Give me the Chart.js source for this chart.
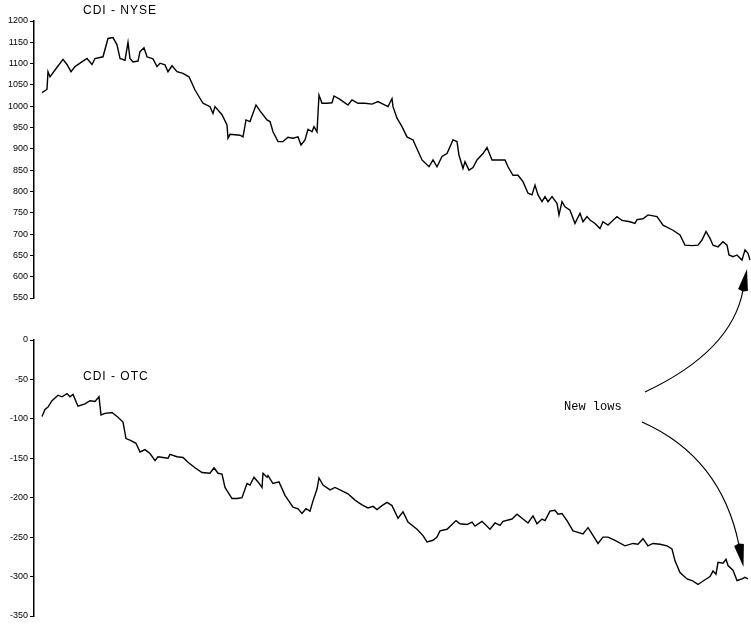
<!DOCTYPE html>
<html><head><meta charset="utf-8">
<script src="https://cdn.jsdelivr.net/npm/chart.js@4"></script>
<style>
html,body{margin:0;padding:0;background:#fff;width:751px;height:625px;overflow:hidden}
canvas{position:absolute;left:0;top:0}
</style></head>
<body>
<canvas id="top" width="751" height="625"></canvas>
<canvas id="bot" width="751" height="625"></canvas>
<script>
// ---- Data (trading-day index, index value) ----
const nyseDay = [1,5,6,7,9,14,22,26,30,34,39,46,51,54,62,67,72,76,79,84,87,89,92,97,99,103,106,112,116,119,124,127,131,136,142,148,154,162,169,172,174,181,186,187,189,199,202,205,209,215,219,226,229,232,237,242,247,252,257,260,264,267,271,273,276,278,281,286,291,293,299,307,311,317,324,331,337,342,347,351,352,356,361,366,372,381,388,392,396,401,406,412,416,418,422,424,428,432,436,442,446,451,459,464,467,472,477,482,487,491,494,497,501,504,507,511,516,518,521,524,529,534,539,542,546,549,554,559,562,567,576,581,589,594,596,602,607,616,622,632,639,644,651,657,661,665,669,672,677,682,686,688,692,696,701,704,707,709];
const nyseValue = [1032,1038,1040,1081,1069,1085,1110,1098,1081,1093,1101,1112,1098,1112,1116,1159,1161,1144,1112,1108,1150,1112,1104,1106,1128,1137,1116,1111,1093,1101,1097,1081,1095,1081,1077,1069,1038,1007,999,983,999,980,956,925,934,932,928,968,964,1003,989,968,964,940,917,917,927,925,928,909,921,946,940,952,940,1026,1007,1007,1008,1024,1016,1003,1015,1007,1007,1005,1011,1005,999,1018,999,972,952,928,921,874,858,874,858,882,889,921,917,885,854,870,850,856,874,889,903,874,874,874,858,838,838,823,796,792,815,792,776,788,776,788,772,745,776,764,756,725,749,729,741,733,725,713,729,721,741,732,729,725,734,736,745,741,721,709,698,674,673,674,686,706,690,674,670,682,674,651,647,651,639,663,655,639];

const otcDay = [1,4,7,11,17,21,26,29,32,37,44,49,54,58,60,64,71,77,82,85,89,95,99,104,109,114,117,122,127,129,136,142,147,154,161,169,173,177,181,184,191,196,201,206,209,213,217,221,222,226,227,232,238,244,252,257,261,265,269,272,276,278,282,289,294,299,307,314,321,327,332,336,341,346,351,357,362,367,376,382,386,392,396,399,406,411,415,419,426,431,434,441,449,454,459,462,471,476,482,487,492,496,501,504,509,514,517,521,526,532,537,542,547,551,557,562,567,574,584,592,597,602,607,612,619,626,631,634,639,646,651,657,664,669,672,675,677,682,685,687,692,696,701,704,707];
const otcValue = [-97,-88,-85,-77,-70,-72,-68,-72,-69,-84,-81,-77,-78,-72,-95,-93,-92,-98,-104,-125,-127,-131,-142,-139,-144,-153,-148,-149,-150,-145,-148,-149,-155,-162,-168,-169,-162,-169,-170,-187,-201,-201,-200,-182,-184,-174,-180,-187,-169,-174,-172,-182,-180,-197,-212,-214,-220,-214,-217,-204,-189,-175,-184,-190,-187,-190,-195,-203,-209,-213,-211,-215,-210,-206,-210,-226,-218,-231,-240,-248,-256,-254,-250,-242,-240,-234,-229,-233,-234,-231,-236,-230,-240,-232,-235,-230,-227,-221,-227,-232,-223,-233,-227,-229,-217,-216,-221,-220,-229,-242,-244,-246,-238,-246,-258,-250,-250,-254,-261,-258,-259,-252,-261,-258,-259,-261,-265,-280,-295,-303,-305,-310,-304,-300,-293,-297,-282,-283,-278,-286,-292,-305,-303,-301,-303];

const nyseTicks = [1200,1150,1100,1050,1000,950,900,850,800,750,700,650,600,550];
const otcTicks = [0,-50,-100,-150,-200,-250,-300,-350];
const nyseTitle = 'CDI - NYSE';
const otcTitle = 'CDI - OTC';
const noteText = 'New lows';

const DAY_MIN = -7, DAY_MAX = 710;

function pts(xs, ys){ return xs.map((x,i)=>({x:x, y:ys[i]})); }

function yAxis(ticks){
  return {
    min: Math.min(...ticks), max: Math.max(...ticks),
    afterBuildTicks: s => { s.ticks = ticks.map(v=>({value:v})); },
    afterFit: s => { s.width = 34; },
    ticks: { color:'#000', font:{family:'Liberation Sans', size:9}, padding:2,
             callback: v => String(v) },
    grid: { drawOnChartArea:false, drawTicks:true, tickLength:4, color:'#000', lineWidth:1 },
    border: { display:true, color:'#000', width:1.5 }
  };
}

function textPlugin(id, items, extra){
  return { id, afterDraw(chart){
    const ctx = chart.ctx; ctx.save();
    ctx.fillStyle = '#000'; ctx.textBaseline = 'alphabetic';
    items.forEach(it=>{
      ctx.font = it.font;
      ctx.letterSpacing = it.ls || '0px';
      ctx.fillText(it.text, it.x, it.y);
    });
    ctx.letterSpacing = '0px';
    if (extra) extra(ctx);
    ctx.restore();
  }};
}

function curvedArrow(ctx, a){
  ctx.strokeStyle = '#000'; ctx.lineWidth = 1.2;
  ctx.beginPath(); ctx.moveTo(a.x0,a.y0); ctx.quadraticCurveTo(a.cx,a.cy,a.x1,a.y1); ctx.stroke();
  const dx=a.tx-a.x1, dy=a.ty-a.y1, L=Math.hypot(dx,dy), nx=-dy/L, ny=dx/L;
  ctx.beginPath(); ctx.moveTo(a.tx,a.ty);
  ctx.lineTo(a.x1+nx*a.w, a.y1+ny*a.w);
  ctx.lineTo(a.x1-dx/L*1.5, a.y1-dy/L*1.5);
  ctx.lineTo(a.x1-nx*a.w, a.y1-ny*a.w);
  ctx.closePath(); ctx.fillStyle='#000'; ctx.fill();
}

const lineDs = data => ({ data, borderColor:'#000', borderWidth:1.4, pointRadius:0, tension:0, fill:false });

function makeChart(id, data, ticks, padTop, padBottom, plugin){
  return new Chart(document.getElementById(id), {
    type:'line',
    data:{ datasets:[lineDs(data)] },
    options:{
      responsive:false, devicePixelRatio:1, animation:false,
      layout:{ padding:{ top:padTop, bottom:padBottom, left:0, right:0 } },
      plugins:{ legend:{display:false}, tooltip:{enabled:false} },
      scales:{
        x:{ type:'linear', min:DAY_MIN, max:DAY_MAX, display:false },
        y: yAxis(ticks)
      }
    },
    plugins:[plugin]
  });
}

makeChart('top', pts(nyseDay, nyseValue), nyseTicks, 21, 327,
  textPlugin('t1', [{text:nyseTitle, x:83, y:14, font:'12px "Liberation Sans"', ls:'1px'}]));

makeChart('bot', pts(otcDay, otcValue), otcTicks, 340, 9,
  textPlugin('t2', [
    {text:otcTitle, x:83, y:380, font:'12px "Liberation Sans"', ls:'1px'},
    {text:noteText, x:564, y:410, font:'12px "Liberation Mono"'}
  ], ctx => {
    curvedArrow(ctx, {x0:645,y0:392, cx:732,cy:351, x1:743,y1:290, tx:747,ty:269, w:5});
    curvedArrow(ctx, {x0:642,y0:422, cx:721,cy:457, x1:739,y1:545, tx:743.5,ty:567, w:5});
  }));
</script>
</body></html>
